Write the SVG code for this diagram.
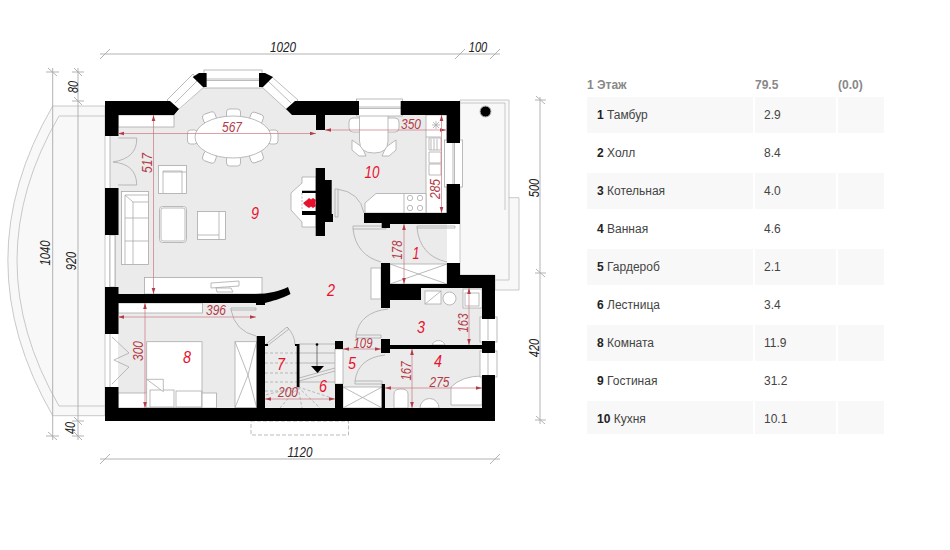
<svg xmlns="http://www.w3.org/2000/svg" width="950" height="550" viewBox="0 0 950 550">
<style>
text{font-family:"Liberation Sans",Arial,sans-serif}
.w{fill:#000}
.l{fill:none;stroke:#aaa;stroke-width:.8}
.f{fill:#fff;stroke:#aaa;stroke-width:.8}
.d{fill:none;stroke:#aaa;stroke-width:.9}
.dt{font-size:14px;font-style:italic;fill:#222;text-anchor:middle}
.rd{fill:none;stroke:#c9777f;stroke-width:.7;marker-start:url(#a);marker-end:url(#a)}
.rt{font-size:14px;font-style:italic;fill:#b33c48;text-anchor:middle}
.rn{font-size:17px;font-style:italic;fill:#e8112d;text-anchor:middle}
.c{fill:#f8f8f8}
.th{font-size:12px;font-weight:bold;fill:#888}
.td{font-size:12px;fill:#444}
.td tspan{font-weight:bold;fill:#222}
</style>
<defs>
<marker id="a" viewBox="-4 -3 8 6" markerUnits="userSpaceOnUse" markerWidth="8" markerHeight="6" refX="3" orient="auto-start-reverse"><path d="M3 0L-3-1.800V1.800Z" fill="#b33c48"/></marker>
</defs>
<rect width="950" height="550" fill="#fff"/>
<g id="terrace">
<path d="M105 106H52.700Q-37 260 52.700 415.700H105Z" class="c" stroke="#bbb" stroke-width=".8"/>
<path d="M105 116H59Q-25 260 59 406H105" fill="none" stroke="#bbb" stroke-width=".8"/>
<path d="M460 100H509V197.700H519V290H495V275H460Z" class="c" stroke="#bbb" stroke-width=".8"/>
<path d="M460 103H505V210M509 197V280H495" fill="none" stroke="#bbb" stroke-width=".8"/>
<circle cx="485.500" cy="111.500" r="5.500" fill="#000" stroke="#bbb"/>
</g>
<g id="floor">
<path d="M110 115H174L204 87H262L292 115H447V284H381V300H421V288H482V408H118V334H110V115Z" fill="#ebebeb"/>
<path d="M381 263H447V284H381Z" fill="#ebebeb"/>
</g>
<g id="furniture">
<rect x="118" y="115" width="56" height="12" class="f"/>
<rect x="144.500" y="277.500" width="117.500" height="16.500" class="f"/>
<path d="M211 283L239 281V286L211 288ZM216 288H231L233 292H217Z" class="f"/>
<rect x="118" y="303" width="84.500" height="10" class="f"/>
<rect x="118" y="393" width="98.500" height="15" class="f"/>
<rect x="146.700" y="341.700" width="55.300" height="66" class="f"/>
<rect x="150" y="390" width="24" height="17" class="f"/>
<rect x="176" y="391" width="25.700" height="16" class="f"/>
<path d="M146.700 379.300H163.300V391.700L146.700 379.300Z" class="f"/>
<rect x="235" y="341.700" width="21.700" height="66" class="f"/>
<path d="M235 341.700L248 375L235 407.700M256.700 341.700L248 375L256.700 407.700" class="l"/>
<g id="dining">
<rect x="187.500" y="130" width="10" height="14" rx="3" class="f"/><rect x="268" y="130" width="10" height="14" rx="3" class="f"/>
<rect x="203" y="113" width="13" height="10" rx="3" class="f" transform="rotate(-20 209 118)"/>
<rect x="226.500" y="109" width="14" height="10" rx="3" class="f"/>
<rect x="250" y="113" width="13" height="10" rx="3" class="f" transform="rotate(20 256 118)"/>
<rect x="203" y="152" width="13" height="10" rx="3" class="f" transform="rotate(20 209 157)"/>
<rect x="226.500" y="156" width="14" height="10" rx="3" class="f"/>
<rect x="250" y="152" width="13" height="10" rx="3" class="f" transform="rotate(-20 256 157)"/>
<ellipse cx="233" cy="137" rx="38" ry="21" class="f"/>
</g>
<g id="sofas">
<rect x="158.500" y="165.500" width="28" height="28" class="f"/><path d="M163 171H182V193M163 171V193M163 172H186" class="l"/>
<rect x="159.500" y="206.500" width="27" height="36" rx="3" class="f"/><rect x="161" y="208" width="24" height="33" rx="2" class="l"/>
<rect x="197.500" y="211.500" width="28" height="28" class="f"/><path d="M197.500 235H219M219 211.500V239.500" class="l"/>
<rect x="121.500" y="191.500" width="27" height="73" class="f"/>
<path d="M125 195H148.500M125 195V264M125 195L133 202H148M133 202V264M125 218H148.500M125 241H148.500" class="l"/>
</g>
<g id="kitchen">
<rect x="426" y="115" width="21" height="98" class="f"/>
<path d="M426 137H441M429 138H441V150H429ZM429 152H441V163H429ZM429 164H441V175H429ZM431 139V150M434 139V150M437 139V150" class="l"/>
<path d="M436 121L436 129M432 125H440M433 122L439 128M439 122L433 128" class="l"/>
<path d="M365 213V203L376 193.500H426V213Z" class="f"/><path d="M404 193.500V213" class="l"/>
<circle cx="410" cy="198" r="2.700" class="l"/><circle cx="420" cy="198" r="2.700" class="l"/><circle cx="410" cy="208" r="2.700" class="l"/><circle cx="420" cy="208" r="2.700" class="l"/>
<rect x="349" y="118" width="50" height="14" rx="4" class="f"/>
<path d="M352 140L362 147L366 156L359 156L352 150ZM396 140L386 147L382 156L389 156L396 150Z" class="f"/>
<path d="M359.500 115V141Q359.500 153 374 153Q388 153 388 141V115Z" class="f"/>
</g>
<g id="fixtures">
<rect x="425" y="291" width="16" height="13" class="f"/><path d="M425 304L441 291" class="l"/>
<circle cx="449.500" cy="298.500" r="6.500" class="f"/>
<rect x="463" y="289" width="19" height="19" class="f"/><rect x="465" y="293" width="14" height="13" class="l"/>
<path d="M432 345A7 7 0 0 1 445 345Z" class="f"/>
<path d="M394 408V394Q394 389 401 389Q408 389 408 394V408Z" class="f"/>
<path d="M420 408A9.500 9.500 0 0 1 439 408Z" class="f"/>
<path d="M451 405V387Q462 376 482 376V405Z" class="f"/>
<rect x="343" y="387" width="39" height="21" class="f"/>
<path d="M343 387L382 408M343 408L382 387" class="l"/>
<rect x="390" y="264" width="57" height="20" class="f"/>
<path d="M390 264L447 284M390 284L447 264" class="l"/>
<rect x="371" y="268" width="10" height="31" class="f"/>
</g>
</g>
<g id="doors">
<path d="M118 138H136.700V139Q137 158 113 162M118 185H136.700V184Q136 164 113 162" class="l"/>
<path d="M110 136V188M110 235V287M115 235V287M110 334V387" class="l"/>
<path d="M112 337L129 353L114 360L129 367L112 384" class="l"/>
<path d="M335 189H337Q360 192 364 213" class="l"/><path d="M335 189V217H338V189" class="l"/>
<path d="M353 229H386V226H353ZM353 229Q356 255 381 262" class="l"/>
<path d="M417 228H455V226H417ZM417 228Q420 256 447 262" class="l"/>
<path d="M231 308H256V310H231ZM231 310Q235 331 256 336" class="l"/>
<path d="M356 335H381V338H356ZM356 335Q360 312 388 309" class="l"/>
<path d="M355 381H382V384H355ZM355 381Q358 358 385 355" class="l"/>
<path d="M265 345L287 327L289 329L267 346" class="l"/><path d="M287 327Q295 335 295 345" class="l"/>
</g>
<g id="windows">
<rect x="204" y="70" width="58" height="18" class="f"/><path d="M204 79H262M204 80.500H262" class="l"/>
<path d="M167 100L193 74L204 87L178 110Z" class="f"/><path d="M175 103L197 81" class="l"/>
<path d="M272 77L298 100L287 110L262 87Z" class="f"/><path d="M268 81L291 103" class="l"/>
<rect x="356.500" y="99" width="46" height="17" class="f"/><path d="M359 107H401M359 108.500H401" class="l"/>
<rect x="444.500" y="140" width="18" height="47" class="f"/><path d="M453 143V184M454.500 143V184" class="l"/>
<rect x="480" y="317" width="17" height="25" class="f"/><rect x="480" y="351" width="17" height="26" class="f"/>
<path d="M488 319V340M488 353V375" class="l"/>
<rect x="335" y="349" width="8" height="35" class="f"/>
<rect x="110" y="235" width="5" height="52" fill="#fff" stroke="#aaa" stroke-width=".8"/>
</g>
<g id="stairs">
<path d="M265 353H297M265 363H297M265 373H297M265 382H297M265 391H297" class="l" stroke-dasharray="3 2"/>
<path d="M299 344H335M299 353H335M299 363H335M299 382H335" class="l"/>
<path d="M299 378L335 368M299 381L335 371" class="l"/>
<path d="M317 344V367" stroke="#555" stroke-width=".8"/><circle cx="317" cy="344.500" r="1.300" fill="#000"/>
<path d="M311 366H324L317.500 373Z" fill="#000"/>
<path d="M298 387L265 395M298 387L280 408M298 387L302 408M298 387L320 408M298 387L335 399" class="l" stroke-dasharray="3 2"/>
<rect x="251" y="421" width="97.500" height="14" fill="none" stroke="#aaa" stroke-width=".8" stroke-dasharray="4 2"/>
</g>
<g id="walls">
<path class="w" d="M105 101H170L179 109L174 115H118.500V136H105Z"/>
<path class="w" d="M192.700 77L199 73H206.600V87H203Z"/>
<path class="w" d="M259 73H265L273 77L263 87H259Z"/>
<path class="w" d="M295 101H359V115H325V130H316V115H292L286 109Z"/>
<path class="w" d="M400.700 101H460V143H446.700V115H400.700Z"/>
<path class="w" d="M446.700 184H460V224H390V228H381.700V223H364V213H446.700Z"/>
<rect class="w" x="105" y="188" width="13.500" height="47"/>
<path class="w" d="M105 287H118.500V294H256C268 294 280 291 288 287L290.500 294C281 299 272 301 265 303V305H256V303H118.500V334H105Z"/>
<path class="w" d="M105 387H118.500V408H256.700V336H265V344H268V346H265V408H335V384H343V408H381.700V384H385V408H482V375H495V421H105Z"/>
<path class="w" d="M381 263H390V284H447V263H460V275H495V319H482V288H421V300H390V308H381Z"/>
<path class="w" d="M335 341H343V349H335ZM381 339H390V345H482V341H495V353H482V349H390V353H381Z"/>
<rect class="w" x="296.700" y="344" width="2.800" height="43"/>
<rect class="w" x="295" y="344" width="2" height="2"/>
</g>
<g id="fireplace">
<path d="M302 177V183L291 193V210L302 222V227H316V177Z" class="f"/>
<path d="M302 193V211" class="l" stroke-dasharray="2 1.500"/>
<path class="w" d="M315.700 168H325V180H331.700V214H333V222H325V236H315.700V215H302V211H315.700V193H302V190.700H315.700Z"/>
<path d="M303 203L307 200L309 198L311 199.500L313 198L316 200L315 203L316 206L313 208L311 206.500L309 208L306 206Z" fill="#e8112d"/>
</g>
<g id="connectors">
<path d="M100 54H500M100 459H500M540 97V424M52.700 68V440M78 68V440" class="d"/>
<path d="M100 59L110 49M455 59L465 49M490 59L500 49M100 464L110 454M490 464L500 454M535 100H546M535 273H546M535 420H546M536 96L545 104M536 269L545 277M536 416L545 424M46 72H59M72 72H84M72 101H84M72 421H84M46 436H59M72 436H84M74 68L82 76M48 68L57 76M74 97L82 105M74 417L82 425M74 432L82 440M48 432L57 440" class="d"/>
<path class="rd" d="M118 133.500H316"/>
<path class="rd" d="M153.500 115V294"/>
<path class="rd" d="M118 317H256"/>
<path class="rd" d="M145 303V408"/>
<path class="rd" d="M325 130H446"/>
<path class="rd" d="M441.500 115V213"/>
<path class="rd" d="M404 224V284"/>
<path class="rd" d="M469 288V345"/>
<path class="rd" d="M412 349V408"/>
<path class="rd" d="M385 388H482"/>
<path class="rd" d="M343 349H381"/>
<path class="rd" d="M265 399H335"/>
</g>
<g id="labels">
<text class="dt" x="283" y="52" textLength="26" lengthAdjust="spacingAndGlyphs">1020</text><text class="dt" x="478" y="52" textLength="18.500" lengthAdjust="spacingAndGlyphs">100</text><text class="dt" x="300" y="457" textLength="25" lengthAdjust="spacingAndGlyphs">1120</text>
<text class="dt" transform="translate(539 188) rotate(-90)" textLength="18.500" lengthAdjust="spacingAndGlyphs">500</text>
<text class="dt" transform="translate(539 348) rotate(-90)" textLength="18.500" lengthAdjust="spacingAndGlyphs">420</text>
<text class="dt" transform="translate(50 253) rotate(-90)" textLength="25" lengthAdjust="spacingAndGlyphs">1040</text>
<text class="dt" transform="translate(76 261) rotate(-90)" textLength="18.500" lengthAdjust="spacingAndGlyphs">920</text>
<text class="dt" transform="translate(78 87) rotate(-90)" textLength="12" lengthAdjust="spacingAndGlyphs">80</text>
<text class="dt" transform="translate(75 428) rotate(-90)" textLength="12" lengthAdjust="spacingAndGlyphs">40</text>
<text class="rt" x="232" y="132" textLength="20" lengthAdjust="spacingAndGlyphs">567</text><text class="rt" x="216" y="315" textLength="20" lengthAdjust="spacingAndGlyphs">396</text><text class="rt" x="411" y="129" textLength="20" lengthAdjust="spacingAndGlyphs">350</text>
<text class="rt" x="363" y="348" textLength="19" lengthAdjust="spacingAndGlyphs">109</text><text class="rt" x="288" y="397" textLength="20" lengthAdjust="spacingAndGlyphs">200</text><text class="rt" x="439.500" y="387" textLength="20" lengthAdjust="spacingAndGlyphs">275</text>
<text class="rt" transform="translate(152 163) rotate(-90)" textLength="20" lengthAdjust="spacingAndGlyphs">517</text>
<text class="rt" transform="translate(143 351) rotate(-90)" textLength="20" lengthAdjust="spacingAndGlyphs">300</text>
<text class="rt" transform="translate(440 189) rotate(-90)" textLength="20" lengthAdjust="spacingAndGlyphs">285</text>
<text class="rt" transform="translate(402 250) rotate(-90)" textLength="19" lengthAdjust="spacingAndGlyphs">178</text>
<text class="rt" transform="translate(468 323) rotate(-90)" textLength="19" lengthAdjust="spacingAndGlyphs">163</text>
<text class="rt" transform="translate(411 371) rotate(-90)" textLength="19" lengthAdjust="spacingAndGlyphs">167</text>
<text class="rn" x="416" y="259" textLength="7" lengthAdjust="spacingAndGlyphs">1</text><text class="rn" x="331" y="296" textLength="8" lengthAdjust="spacingAndGlyphs">2</text><text class="rn" x="421" y="333" textLength="8" lengthAdjust="spacingAndGlyphs">3</text><text class="rn" x="438" y="367" textLength="8" lengthAdjust="spacingAndGlyphs">4</text><text class="rn" x="352" y="369" textLength="8" lengthAdjust="spacingAndGlyphs">5</text><text class="rn" x="323" y="392" textLength="8" lengthAdjust="spacingAndGlyphs">6</text><text class="rn" x="281" y="370" textLength="8" lengthAdjust="spacingAndGlyphs">7</text><text class="rn" x="187" y="363" textLength="8" lengthAdjust="spacingAndGlyphs">8</text><text class="rn" x="255" y="219" textLength="8" lengthAdjust="spacingAndGlyphs">9</text><text class="rn" x="372" y="178" textLength="15" lengthAdjust="spacingAndGlyphs">10</text>
</g>
<g id="table">
<rect class="c" x="587" y="97" width="166" height="36"/><rect class="c" x="755" y="97" width="81" height="36"/><rect class="c" x="838" y="97" width="46" height="36"/>
<rect class="c" x="587" y="173" width="166" height="36"/><rect class="c" x="755" y="173" width="81" height="36"/><rect class="c" x="838" y="173" width="46" height="36"/>
<rect class="c" x="587" y="249" width="166" height="36"/><rect class="c" x="755" y="249" width="81" height="36"/><rect class="c" x="838" y="249" width="46" height="36"/>
<rect class="c" x="587" y="325" width="166" height="36"/><rect class="c" x="755" y="325" width="81" height="36"/><rect class="c" x="838" y="325" width="46" height="36"/>
<rect class="c" x="587" y="401" width="166" height="33"/><rect class="c" x="755" y="401" width="81" height="33"/><rect class="c" x="838" y="401" width="46" height="33"/>
<text class="th" x="587" y="89">1 Этаж</text><text class="th" x="755" y="89">79.5</text><text class="th" x="838" y="89">(0.0)</text>
<text class="td" x="597" y="119"><tspan>1</tspan> Тамбур</text><text class="td" x="764" y="119">2.9</text>
<text class="td" x="597" y="157"><tspan>2</tspan> Холл</text><text class="td" x="764" y="157">8.4</text>
<text class="td" x="597" y="195"><tspan>3</tspan> Котельная</text><text class="td" x="764" y="195">4.0</text>
<text class="td" x="597" y="233"><tspan>4</tspan> Ванная</text><text class="td" x="764" y="233">4.6</text>
<text class="td" x="597" y="271"><tspan>5</tspan> Гардероб</text><text class="td" x="764" y="271">2.1</text>
<text class="td" x="597" y="309"><tspan>6</tspan> Лестница</text><text class="td" x="764" y="309">3.4</text>
<text class="td" x="597" y="347"><tspan>8</tspan> Комната</text><text class="td" x="764" y="347">11.9</text>
<text class="td" x="597" y="385"><tspan>9</tspan> Гостиная</text><text class="td" x="764" y="385">31.2</text>
<text class="td" x="597" y="423"><tspan>10</tspan> Кухня</text><text class="td" x="764" y="423">10.1</text>
</g>
</svg>
